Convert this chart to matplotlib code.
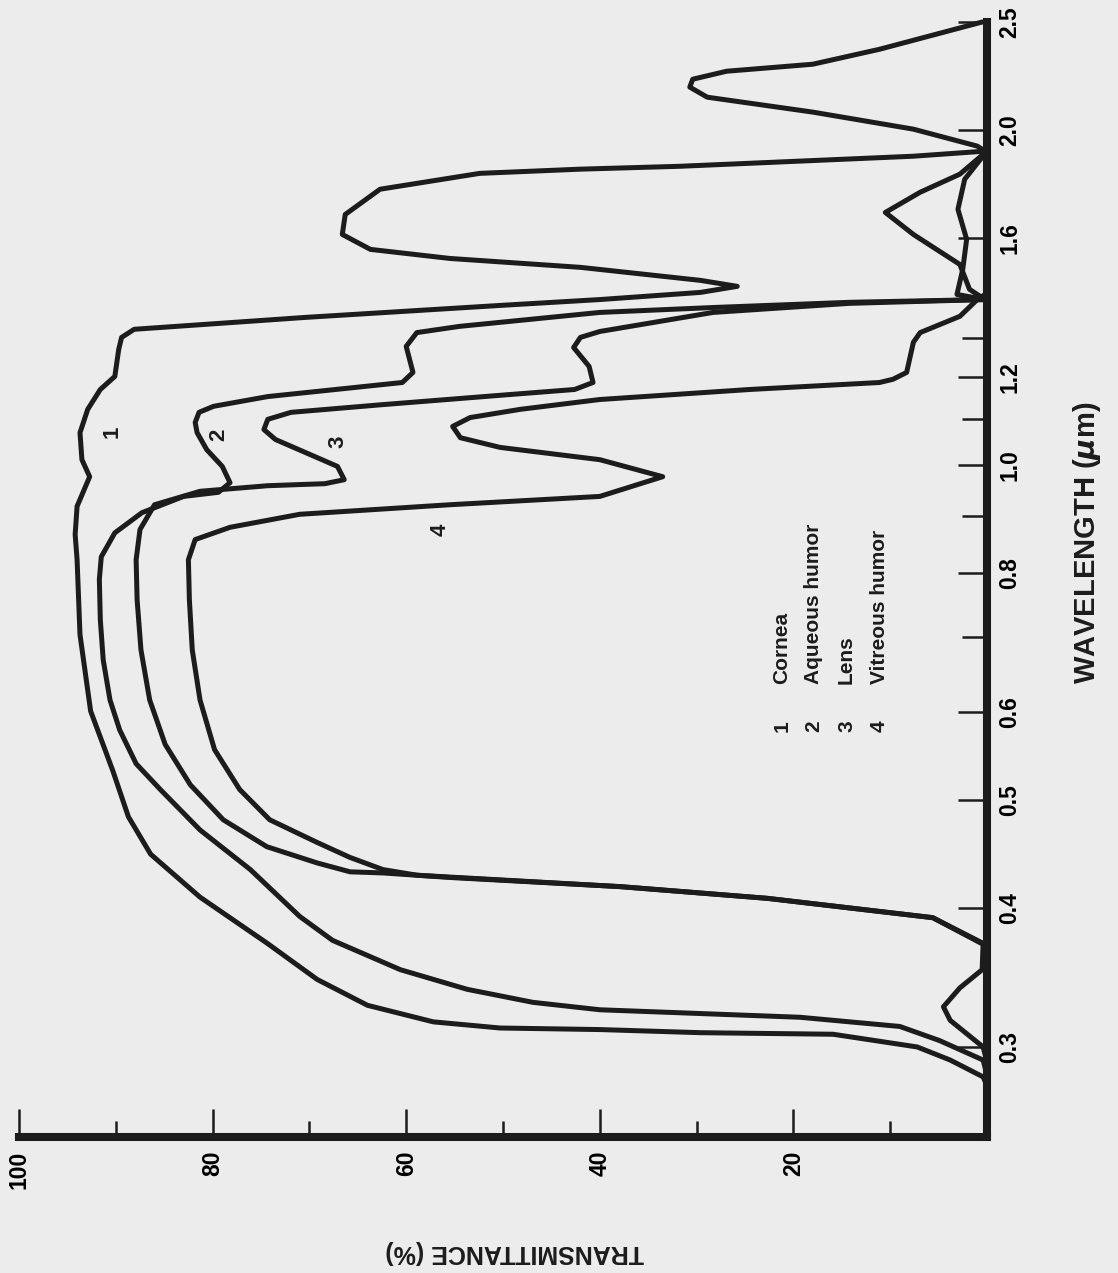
import matplotlib
matplotlib.use("Agg")
import matplotlib.pyplot as plt

# transmittance of the ocular media, read off the (rotated) figure
# wavelength in micrometres, transmittance in percent
cornea_wl = [0.277, 0.282, 0.292, 0.300, 0.308, 0.309, 0.311, 0.312, 0.316, 0.327,
             0.345, 0.372, 0.409, 0.447, 0.483, 0.531, 0.601, 0.704, 0.822, 0.866,
             0.918, 0.976, 1.011, 1.069, 1.122, 1.169, 1.201, 1.270, 1.302, 1.324,
             1.357, 1.391, 1.408, 1.429, 1.447, 1.465, 1.505, 1.533, 1.562, 1.611,
             1.679, 1.769, 1.828, 1.844, 1.855, 1.894, 1.914, 1.934, 2.003, 2.075,
             2.140, 2.185, 2.221, 2.258, 2.291, 2.363, 2.500]
cornea_t = [0.0, 0.4, 3.8, 7.2, 15.9, 29.6, 40.0, 50.3, 57.2, 64.0,
            69.2, 74.4, 81.3, 86.4, 88.7, 90.3, 92.6, 93.7, 94.0, 94.2,
            94.0, 92.7, 93.5, 93.7, 92.9, 91.6, 90.1, 89.7, 89.4, 88.1,
            70.4, 50.3, 40.0, 29.6, 25.8, 29.6, 42.0, 55.5, 63.7, 66.6,
            66.3, 62.7, 52.4, 42.0, 31.7, 7.6, 0.2, 1.0, 7.6, 18.0,
            28.9, 30.7, 30.4, 26.9, 18.0, 11.1, 0.5]

aqueous_wl = [0.283, 0.292, 0.304, 0.313, 0.319, 0.324, 0.329, 0.338, 0.352, 0.374,
              0.393, 0.433, 0.470, 0.511, 0.539, 0.578, 0.615, 0.668, 0.726, 0.789,
              0.827, 0.869, 0.906, 0.937, 0.945, 0.964, 0.997, 1.032, 1.069, 1.092,
              1.115, 1.129, 1.152, 1.186, 1.211, 1.278, 1.315, 1.332, 1.371, 1.385,
              1.400, 1.408, 1.438, 1.514, 1.611, 1.686, 1.758, 1.825, 1.914]
aqueous_t = [0.0, 0.4, 4.9, 9.0, 19.3, 40.0, 46.9, 53.7, 60.6, 67.6,
             71.0, 76.1, 81.3, 85.4, 87.9, 89.6, 90.6, 91.3, 91.6, 91.7,
             91.5, 90.1, 87.3, 83.0, 79.4, 78.2, 79.0, 80.6, 81.6, 81.8,
             81.4, 79.9, 74.3, 60.4, 59.3, 60.0, 58.9, 54.5, 40.0, 28.3,
             14.2, 0.2, 1.8, 2.8, 7.6, 10.5, 6.9, 2.8, 0.0]

lens_wl = [0.291, 0.300, 0.317, 0.326, 0.339, 0.352, 0.371, 0.392, 0.408, 0.418,
           0.426, 0.430, 0.431, 0.439, 0.454, 0.480, 0.516, 0.561, 0.615, 0.682,
           0.757, 0.822, 0.875, 0.921, 0.947, 0.958, 0.962, 0.970, 0.997, 1.026,
           1.054, 1.076, 1.099, 1.115, 1.133, 1.155, 1.169, 1.186, 1.226, 1.275,
           1.302, 1.318, 1.371, 1.397, 1.408, 1.423, 1.499, 1.595, 1.697, 1.806,
           1.914]
lens_t = [0.0, 0.4, 3.8, 4.5, 2.8, 0.5, 0.4, 5.6, 22.7, 37.9,
          55.5, 62.4, 65.8, 69.2, 74.4, 78.9, 82.3, 84.9, 86.5, 87.4,
          87.8, 87.9, 87.5, 86.0, 81.3, 74.3, 68.4, 66.4, 67.1, 70.4,
          73.5, 74.7, 74.3, 71.9, 62.4, 50.3, 42.6, 40.7, 41.1, 42.7,
          42.0, 40.0, 28.3, 14.2, 0.2, 3.1, 2.5, 2.1, 3.0, 2.3,
          0.0]

vitreous_wl = [0.282, 0.371, 0.392, 0.408, 0.418, 0.428, 0.433, 0.444, 0.458, 0.480,
               0.511, 0.555, 0.615, 0.682, 0.757, 0.822, 0.857, 0.879, 0.903, 0.921,
               0.937, 0.976, 1.011, 1.037, 1.058, 1.083, 1.103, 1.122, 1.145, 1.169,
               1.186, 1.194, 1.211, 1.289, 1.315, 1.360, 1.408, 1.423]
vitreous_t = [0.0, 0.2, 5.6, 22.7, 37.9, 58.9, 62.4, 65.8, 69.2, 74.1,
              77.2, 79.8, 81.3, 82.1, 82.4, 82.5, 81.8, 78.2, 71.0, 55.5,
              40.0, 33.5, 40.0, 50.3, 54.4, 55.2, 53.4, 48.2, 40.0, 24.5,
              11.1, 9.7, 8.3, 7.6, 6.9, 2.8, 1.0, 0.2]

media = ["Cornea", "Aqueous humor", "Lens", "Vitreous humor"]
curve_numbers = ["1", "2", "3", "4"]

wl_major = [0.3, 0.4, 0.5, 0.6, 0.8, 1.0, 1.2, 1.6, 2.0, 2.5]
wl_minor = [0.7, 0.9, 1.1, 1.3]
t_major = [100, 80, 60, 40, 20]
t_minor = [90, 70, 50, 30, 10]

paper = "#ececec"
ink = "#1c1c1c"

plt.rcParams['font.family'] = ['Liberation Sans', 'DejaVu Sans']
plt.rcParams['font.weight'] = 'bold'

fig = plt.figure(figsize=(11.18, 12.73), dpi=100)
fig.patch.set_facecolor(paper)
# the figure is printed turned a quarter turn: wavelength runs up, transmittance runs left
ax = fig.add_axes([0.0170, 0.1068, 0.8658, 0.8759])
ax.set_facecolor(paper)

for wl, t in [(cornea_wl, cornea_t), (aqueous_wl, aqueous_t),
              (lens_wl, lens_t), (vitreous_wl, vitreous_t)]:
    ax.plot(t, wl, color=ink, lw=3.6, solid_joinstyle='round',
            solid_capstyle='round', clip_on=False)

ax.set_yscale('log')
ax.set_xlim(100, 0)
ax.set_ylim(0.249, 2.5)

for side in ['left', 'top']:
    ax.spines[side].set_visible(False)
for side in ['right', 'bottom']:
    ax.spines[side].set_linewidth(5.8)
    ax.spines[side].set_color(ink)
    ax.spines[side].set_capstyle('projecting')

ax.yaxis.tick_right()
ax.set_yticks(wl_major, labels=[f"{v:.1f}" for v in wl_major],
              rotation=90, va='center', fontsize=16.5, fontweight='bold')
ax.set_yticks(wl_minor, minor=True)
ax.yaxis.set_minor_formatter(plt.NullFormatter())
ax.tick_params(axis='y', which='major', direction='in', length=21, width=1.8,
               color=ink, pad=8, left=False, right=True)
ax.tick_params(axis='y', which='minor', direction='in', length=18, width=1.8,
               color=ink, left=False, right=True)

ax.set_xticks(t_major, labels=[str(v) for v in t_major],
              rotation=90, va='top', ha='center', fontsize=16.5, fontweight='bold')
ax.set_xticks(t_minor, minor=True)
ax.tick_params(axis='x', which='major', direction='in', length=20, width=1.8,
               color=ink, pad=10)
ax.tick_params(axis='x', which='minor', direction='in', length=11.5, width=1.8,
               color=ink)

# curve numbers
num_pos = [(90.4, 1.072), (79.4, 1.065), (67.0, 1.050), (56.5, 0.875)]
for n, (t, wl) in zip(curve_numbers, num_pos):
    ax.text(t, wl, n, rotation=90, ha='center', va='center', fontsize=16,
            fontweight='bold', color=ink)

# key
key_t = [21.2, 17.9, 14.5, 11.1]
for n, name, t in zip(curve_numbers, media, key_t):
    ax.text(t, 0.582, n, rotation=90, rotation_mode='anchor', ha='center',
            va='center', fontsize=15, fontweight='bold', color=ink)
    ax.text(t, 0.635, name, rotation=90, rotation_mode='anchor', ha='left',
            va='center', fontsize=15, fontweight='bold', color=ink)

fig.text(0.972, 0.5734, r"WAVELENGTH ($\mu$m)", rotation=90, ha='center',
         va='center', fontsize=21, fontweight='bold', color=ink)
fig.text(0.4606, 0.0165, "TRANSMITTANCE (%)", rotation=180, ha='center',
         va='center', fontsize=18, fontweight='bold', color=ink)

fig.savefig("out.png", dpi=100, facecolor=paper)
